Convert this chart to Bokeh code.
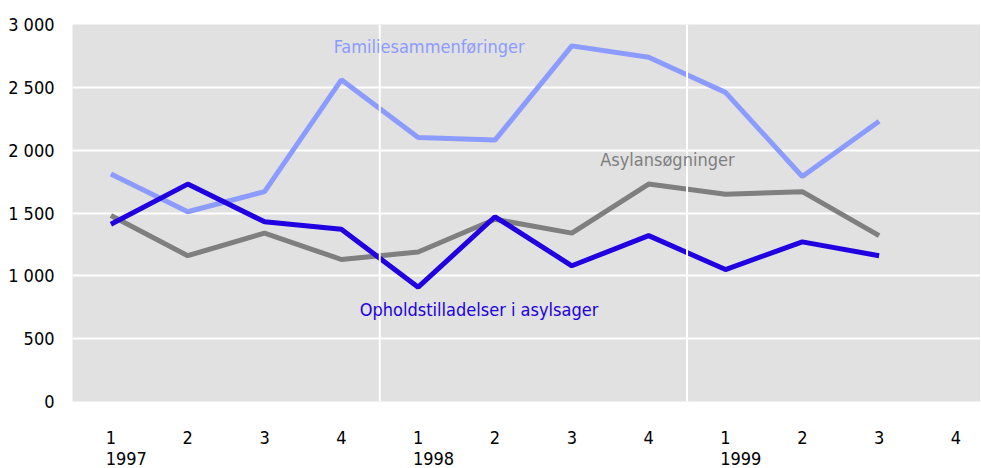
from bokeh.plotting import figure
from bokeh.models import FixedTicker, LinearAxis, Span, Label
from bokeh.embed import file_html
from bokeh.resources import INLINE

quarters = ["1", "2", "3", "4", "1", "2", "3", "4", "1", "2", "3", "4"]
years = ["1997", "1998", "1999"]
year_pos = [0.2, 4.2, 8.2]
familie = [1810, 1510, 1670, 2560, 2100, 2080, 2830, 2740, 2460, 1790, 2230]
ophold = [1410, 1730, 1430, 1370, 910, 1470, 1080, 1320, 1050, 1270, 1160]
asyl = [1480, 1160, 1340, 1130, 1190, 1450, 1340, 1730, 1650, 1670, 1320]
y_ticks = [0, 500, 1000, 1500, 2000, 2500, 3000]
y_labels = ["0", "500", "1 000", "1 500", "2 000", "2 500", "3 000"]

FONT = "DejaVu Sans Condensed"
C_FAM = "#8c9bff"
C_OPH = "#2000e0"
C_ASY = "#7f7f7f"

p = figure(width=980, height=467, x_range=(-0.5, 11.32), y_range=(0, 3000),
           output_backend="svg", toolbar_location=None,
           min_border_left=72, min_border_right=0, min_border_top=24, min_border_bottom=66)
p.background_fill_color = "#e1e1e1"
p.border_fill_color = "white"
p.outline_line_color = None

xs = list(range(len(familie)))
p.line(xs, asyl, line_color=C_ASY, line_width=5)
p.line(xs, familie, line_color=C_FAM, line_width=5)
p.line(xs, ophold, line_color=C_OPH, line_width=5)

# grid
p.xgrid.visible = False
p.ygrid.ticker = FixedTicker(ticks=y_ticks)
p.ygrid.grid_line_color = "white"
p.ygrid.grid_line_width = 2
for xv in [3.5, 7.5]:
    p.add_layout(Span(location=xv, dimension="height", line_color="white", line_width=2))

def style_axis(ax, standoff):
    ax.axis_line_color = None
    ax.major_tick_line_color = None
    ax.minor_tick_line_color = None
    ax.major_tick_in = 0
    ax.major_tick_out = 0
    ax.major_label_standoff = standoff
    ax.major_label_text_font = FONT
    ax.major_label_text_font_size = "18px"
    ax.major_label_text_color = "black"

# y axis
ya = p.yaxis[0]
ya.ticker = FixedTicker(ticks=y_ticks)
ya.major_label_overrides = {t: l for t, l in zip(y_ticks, y_labels)}
style_axis(ya, 18)

# x axis: quarters
xa = p.xaxis[0]
xa.ticker = FixedTicker(ticks=list(range(12)))
xa.major_label_overrides = {i: q for i, q in enumerate(quarters)}
style_axis(xa, 29)

# x axis: years
xa2 = LinearAxis(ticker=FixedTicker(ticks=year_pos))
xa2.major_label_overrides = {pos: yr for pos, yr in zip(year_pos, years)}
style_axis(xa2, 5)
p.add_layout(xa2, "below")

# series labels
for x, y, t, c in [(2.9, 2824, "Familiesammenføringer", C_FAM),
                   (6.37, 1925, "Asylansøgninger", C_ASY),
                   (3.24, 732, "Opholdstilladelser i asylsager", C_OPH)]:
    p.add_layout(Label(x=x, y=y, text=t, text_color=c, text_font=FONT,
                       text_font_size="18px", text_baseline="middle", text_align="left"))

open("out.html", "w").write(file_html(p, INLINE))
